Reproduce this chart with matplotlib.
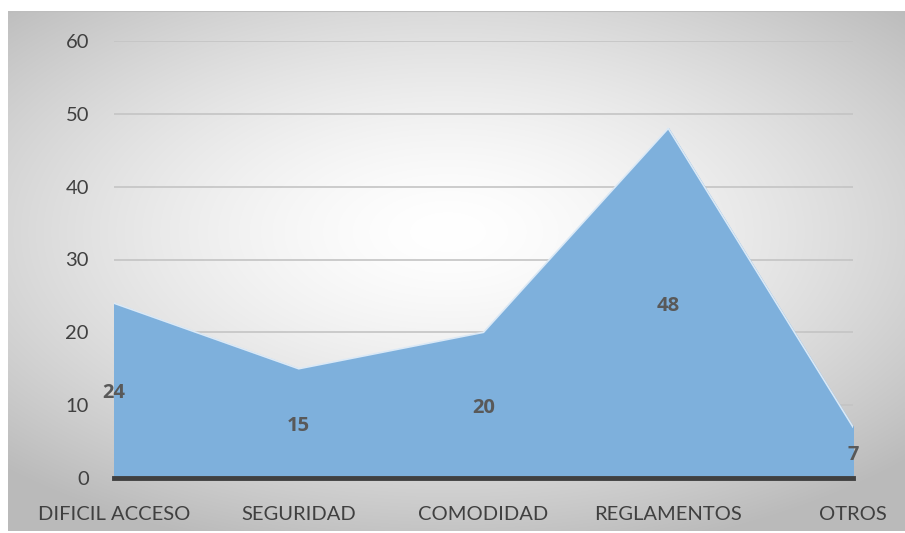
import matplotlib.pyplot as plt
import numpy as np

categorias = ["DIFICIL ACCESO", "SEGURIDAD", "COMODIDAD", "REGLAMENTOS", "OTROS"]
valores = [24, 15, 20, 48, 7]
yticks = [0, 10, 20, 30, 40, 50, 60]

plt.rcParams['font.family'] = ['Lato', 'DejaVu Sans']

fig = plt.figure(figsize=(9.05, 5.33), dpi=100)

# radial gradient background
bg = fig.add_axes([8 / 905, 2 / 533, 897 / 905, 520 / 533])
gx, gy = np.meshgrid(np.linspace(-1, 1, 400), np.linspace(1, -1, 300))
r = np.sqrt(((gx + 0.02) / 1.05) ** 2 + ((gy - 0.15) / 0.95) ** 2)
shade = 1.0 - 0.27 * np.clip(r / 1.35, 0, 1) ** 1.5
bg.imshow(np.dstack([shade, shade, shade]), aspect='auto', extent=[0, 1, 0, 1],
          interpolation='bilinear')
bg.axhline(1, color='#bdbdbd', lw=1.5)
bg.set_axis_off()

ax = fig.add_axes([114 / 905, 1 - 478 / 533, (853 - 114) / 905, (478 - 41) / 533])
ax.patch.set_alpha(0)
x = np.arange(len(categorias))

ax.set_ylim(0, 60)
ax.set_xlim(0, len(categorias) - 1)
ax.set_yticks(yticks)
ax.grid(axis='y', color='#c4c4c4', lw=1.2, zorder=0)
ax.fill_between(x, 0, valores, color='#7eb0dc', zorder=2)
ax.plot(x, valores, color='#dbe9f6', lw=1.2, zorder=3)
ax.axhline(0, color='#404040', lw=3.5, zorder=4, clip_on=False)

for xi, v in zip(x, valores):
    ax.text(xi, v / 2, str(v), ha='center', va='center_baseline', fontsize=14.5,
            fontweight='bold', color='#595959', zorder=5,
            family=['Open Sans', 'DejaVu Sans'])

ax.set_xticks(x)
ax.set_xticklabels(categorias)
for s in ax.spines.values():
    s.set_visible(False)
ax.tick_params(axis='both', length=0, labelsize=14.5, colors='#404040')
ax.tick_params(axis='x', pad=20)
ax.tick_params(axis='y', pad=18)

fig.savefig('out.png', dpi=100)
